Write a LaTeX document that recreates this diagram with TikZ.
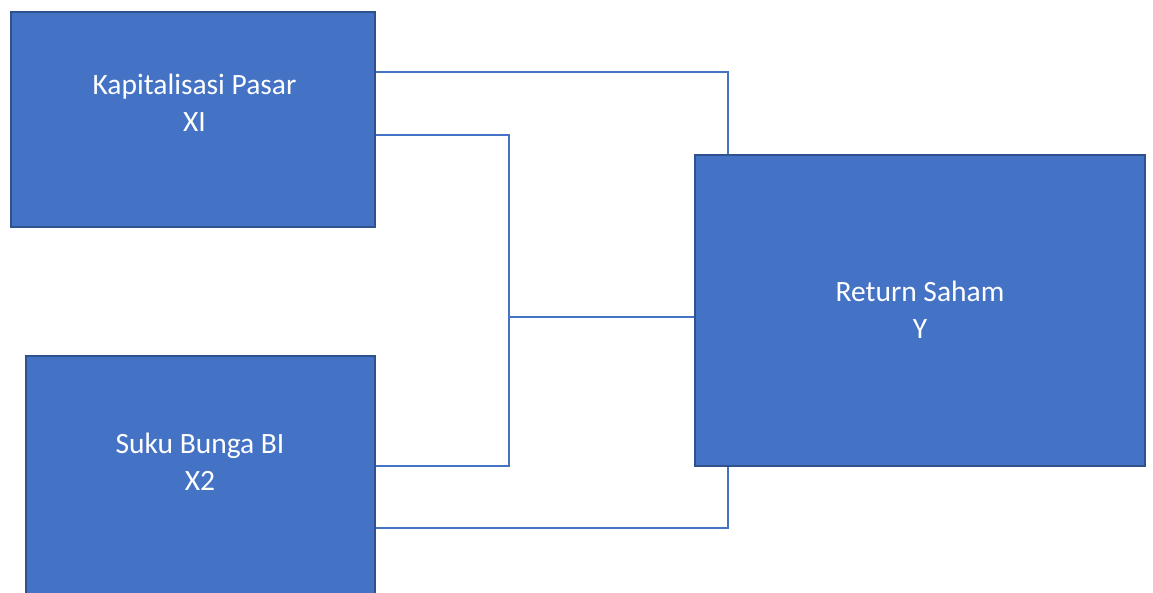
\documentclass[tikz,border=0pt]{standalone}
\usepackage{fontspec}
\setmainfont{Carlito}
\definecolor{boxfill}{HTML}{4472C4}
\definecolor{boxline}{HTML}{2F528F}
\begin{document}
\begin{tikzpicture}[x=1pt, y=-1pt,
  box/.style={rectangle, draw=boxline, fill=boxfill, line width=1.6pt, inner sep=0pt},
  caption/.style={text=white, align=center, font=\fontsize{29.5}{37}\selectfont},
  link/.style={draw=boxfill, line width=1.1pt}
]
  \clip (0,0) rectangle (1153,592);

  % Variables
  \node[box, minimum width=364, minimum height=215] (kp) at (193, 119.5) {};
  \node[box, minimum width=349, minimum height=264] (sb) at (200.5, 488) {};
  \node[box, minimum width=450, minimum height=311] (rs) at (920, 310.5) {};

  \node[caption] (kpt) at (194.5, 103) {Kapitalisasi Pasar\\XI};
  \node[caption] (sbt) at (200, 462) {Suku Bunga BI\\X2};
  \node[caption] (rst) at (920, 310) {Return Saham\\Y};

  % Connectors
  \coordinate (mid) at (509, 317);
  \draw[link] (kp.east |- 0,72) -| (rs.north -| 728,0);
  \draw[link] (kp.east |- 0,135) -| (mid) |- (sb.east |- 0,466);
  \draw[link] (mid) -- (rs.west |- mid);
  \draw[link] (sb.east |- 0,528) -| (rs.south -| 728,0);
\end{tikzpicture}
\end{document}
